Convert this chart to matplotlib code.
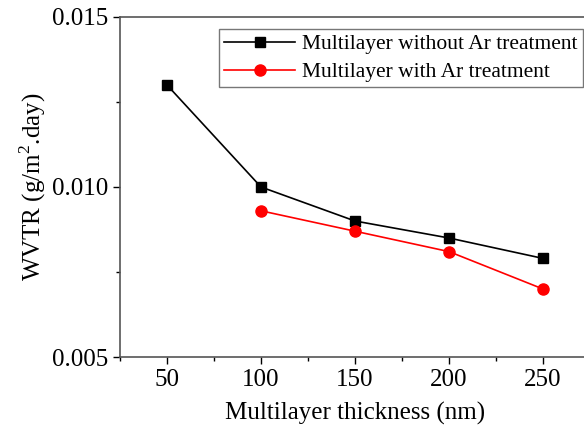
import matplotlib
matplotlib.use("Agg")
import matplotlib.pyplot as plt
from matplotlib.ticker import MultipleLocator

plt.rcParams['font.family'] = ['Liberation Serif', 'DejaVu Serif']
plt.rcParams['mathtext.fontset'] = 'custom'
plt.rcParams['mathtext.rm'] = 'Liberation Serif'

# data
thick_wo = [50, 100, 150, 200, 250]
wvtr_wo = [0.0130, 0.0100, 0.0090, 0.0085, 0.0079]
thick_ar = [100, 150, 200, 250]
wvtr_ar = [0.0093, 0.0087, 0.0081, 0.0070]
xticks = [50, 100, 150, 200, 250]
yticks = [0.005, 0.010, 0.015]

fig = plt.figure(figsize=(5.84, 4.30), dpi=100)
# right spine falls just outside the canvas, as in the reference
ax = fig.add_axes([120/584, 73/430, 470/584, 340/430])

ax.plot(thick_wo, wvtr_wo, color='black', marker='s', markersize=7.5,
        linewidth=1.2, label='Multilayer without Ar treatment')
ax.plot(thick_ar, wvtr_ar, color='red', marker='o', markersize=8,
        linewidth=1.2, label='Multilayer with Ar treatment')

ax.set_xlim(25, 275)
ax.set_ylim(0.005, 0.015)
ax.set_xticks(xticks)
ax.set_yticks(yticks)
ax.set_yticklabels(['%.3f' % v for v in yticks])
ax.xaxis.set_minor_locator(MultipleLocator(25))
ax.yaxis.set_minor_locator(MultipleLocator(0.0025))
ax.tick_params(which='major', direction='out', length=5, width=1, labelsize=18)
ax.tick_params(which='minor', direction='out', length=3, width=1)
for s in ax.spines.values():
    s.set_color('#555555')
    s.set_linewidth(1.2)

ax.set_xlabel('Multilayer thickness (nm)', fontsize=18, labelpad=8)
ax.set_ylabel('WVTR (g/m$^2$.day)', fontsize=18, labelpad=3)

leg = ax.legend(loc='upper left', bbox_to_anchor=(219/584, 1 - 29/430),
                bbox_transform=fig.transFigure, fontsize=15.5, frameon=True,
                fancybox=False, borderpad=0.25, handlelength=3.3,
                labelspacing=0.35, handletextpad=0.3, borderaxespad=0)
leg.get_frame().set_edgecolor('#555555')
leg.get_frame().set_linewidth(1.0)

fig.savefig('out.png', dpi=100)
